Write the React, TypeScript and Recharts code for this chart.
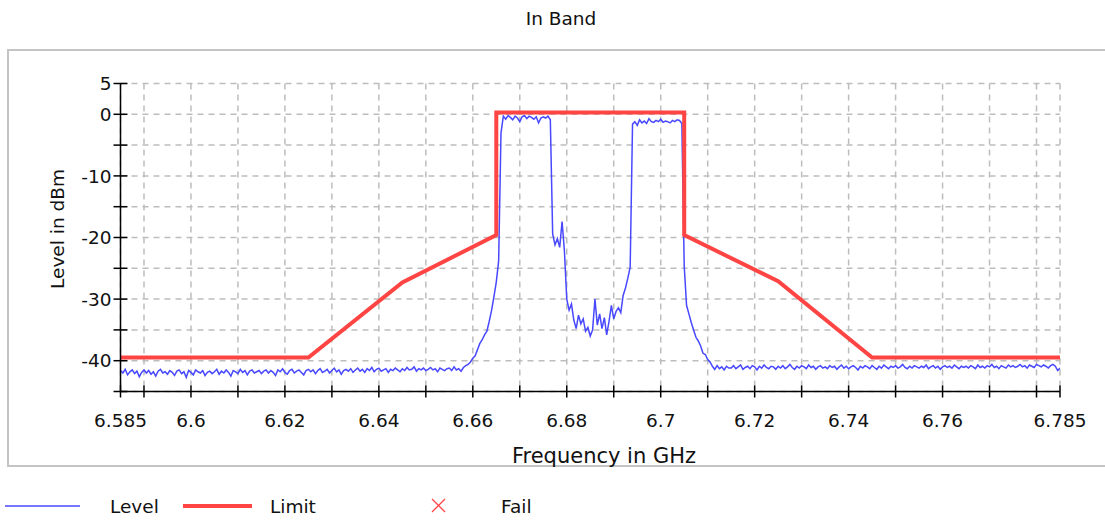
import React from "react";
import { CartesianGrid, Line, LineChart, XAxis, YAxis } from "recharts";

// sweep grid of the measured trace (GHz)
const sweepStart = 6.585;
const sweepStep = 0.0005;

// measured level in dBm, one row per 10 MHz (20 sweep points each)
const levelRows = [
  [-41.6, -42.0, -41.4, -42.3, -41.8, -41.5, -42.1, -41.7, -42.6, -41.9, -41.5, -42.0, -41.6, -42.2, -41.8, -42.5, -41.7, -41.4, -42.0, -41.8],
  [-42.2, -41.6, -41.9, -42.4, -41.7, -41.5, -42.1, -41.8, -42.7, -41.6, -41.9, -42.3, -41.5, -41.8, -42.0, -41.6, -42.4, -41.9, -41.7, -42.1],
  [-41.8, -41.4, -42.2, -41.7, -42.0, -41.5, -41.9, -42.5, -41.6, -41.8, -42.1, -41.4, -41.9, -41.6, -42.3, -41.7, -41.5, -42.0, -41.8, -41.6],
  [-42.1, -41.7, -41.5, -42.0, -41.6, -41.9, -42.4, -41.5, -41.8, -41.3, -41.9, -42.2, -41.6, -41.4, -42.0, -41.7, -41.5, -41.9, -42.3, -41.6],
  [-41.4, -41.8, -41.5, -42.1, -41.6, -41.3, -41.9, -41.7, -41.4, -42.0, -41.6, -41.2, -41.8, -41.5, -42.2, -41.6, -41.4, -41.7, -41.3, -41.9],
  [-41.5, -41.2, -41.7, -41.4, -41.9, -41.3, -41.6, -41.1, -41.8, -41.4, -41.2, -41.7, -41.5, -41.3, -41.9, -41.4, -41.6, -41.2, -41.5, -41.8],
  [-41.3, -41.6, -41.1, -41.5, -41.4, -41.0, -41.7, -41.3, -41.5, -41.2, -41.6, -41.4, -41.1, -41.5, -41.3, -41.8, -41.2, -41.4, -41.6, -41.3],
  [-41.2, -41.6, -41.0, -41.5, -41.3, -41.7, -41.1, -40.8, -40.6, -40.2, -39.6, -39.2, -38.2, -37.2, -36.6, -35.8, -35.2, -33.6, -31.8, -29.6],
  [-27.2, -23.8, -3.0, -0.3, -0.8, -0.2, -0.5, -0.9, -0.3, -0.6, -1.2, -0.4, -0.2, -0.7, -0.3, -0.5, -0.8, -0.4, -1.4, -0.6],
  [-0.4, -0.6, -0.3, -0.9, -19.4, -21.2, -20.2, -21.6, -17.4, -22.2, -30.0, -31.8, -30.8, -33.4, -34.8, -32.6, -34.0, -33.2, -35.2, -34.6],
  [-36.0, -35.0, -30.0, -34.2, -32.4, -34.8, -33.0, -35.8, -33.6, -31.0, -33.2, -32.0, -31.4, -32.2, -29.4, -28.2, -26.6, -24.8, -1.6, -1.2],
  [-1.8, -0.9, -1.4, -1.1, -1.5, -0.7, -1.2, -1.3, -1.0, -1.2, -0.8, -1.3, -1.1, -1.2, -1.4, -1.0, -1.2, -0.9, -1.0, -1.5],
  [-24.6, -31.0, -32.4, -33.8, -35.0, -36.2, -36.8, -37.6, -38.8, -39.0, -39.8, -40.2, -40.9, -41.4, -40.8, -41.3, -41.0, -41.5, -40.9, -41.2],
  [-41.2, -40.8, -41.3, -41.0, -40.7, -41.4, -41.1, -40.9, -41.3, -40.8, -41.0, -41.5, -40.9, -41.2, -40.7, -41.1, -41.3, -40.9, -41.0, -41.4],
  [-40.9, -41.2, -40.8, -41.3, -41.0, -40.6, -41.1, -41.4, -40.9, -41.2, -40.8, -41.0, -41.3, -40.7, -41.1, -40.9, -41.4, -41.0, -40.8, -41.2],
  [-41.0, -41.3, -40.8, -41.1, -40.9, -41.4, -41.0, -40.7, -41.2, -40.9, -41.3, -41.0, -40.8, -41.1, -41.5, -40.9, -41.2, -40.8, -41.0, -41.3],
  [-40.8, -41.1, -41.4, -40.9, -41.2, -40.7, -41.0, -41.3, -40.9, -41.1, -40.8, -41.2, -41.0, -40.6, -41.1, -41.3, -40.9, -41.2, -40.8, -41.0],
  [-41.2, -40.9, -41.1, -40.7, -41.3, -41.0, -40.8, -41.2, -40.9, -41.4, -41.0, -40.8, -41.1, -40.9, -41.2, -40.7, -41.0, -41.3, -40.9, -41.1],
  [-40.9, -41.2, -40.8, -41.0, -41.3, -40.7, -41.1, -40.9, -41.2, -40.8, -41.0, -40.6, -41.1, -40.9, -41.3, -40.8, -41.0, -41.2, -40.7, -41.0],
  [-40.8, -41.1, -40.9, -40.6, -41.0, -40.8, -41.2, -40.7, -40.9, -41.1, -40.6, -40.8, -41.0, -40.7, -40.9, -41.2, -40.8, -40.6, -40.9, -41.6],
  [-41.2],
];

// limit line corners
const limitFreq = [6.585, 6.625, 6.645, 6.665, 6.665, 6.705, 6.705, 6.725, 6.745, 6.785];
const limitDb = [-39.5, -39.5, -27.3, -19.6, 0.3, 0.3, -19.6, -27.1, -39.5, -39.5];

const xTicks = [6.585, 6.59, 6.6, 6.61, 6.62, 6.63, 6.64, 6.65, 6.66, 6.67, 6.68, 6.69, 6.7, 6.71, 6.72, 6.73, 6.74, 6.75, 6.76, 6.77, 6.78, 6.785];
const xLabels = ["6.585", "6.6", "6.62", "6.64", "6.66", "6.68", "6.7", "6.72", "6.74", "6.76", "6.785"];
const yTicks = [5, 0, -5, -10, -15, -20, -25, -30, -35, -40, -45];
const yLabels = ["5", "0", "-10", "-20", "-30", "-40"];

const legendItems = [
  { name: "Level", kind: "thin" },
  { name: "Limit", kind: "thick" },
  { name: "Fail", kind: "cross" },
];

const W = 1105;
const H = 521;
const PLOT_LEFT = 120.5;
const PLOT_RIGHT = 1060;
const PLOT_TOP = 83.5;
const PLOT_BOTTOM = 391.5;
const AXIS_W = 60;
const AXIS_H = 50;
const FONT = "'DejaVu Sans', sans-serif";
const BLUE = "#4848ff";
const RED = "#ff4444";

const levelData = levelRows.flat().map((db, i) => ({ f: sweepStart + i * sweepStep, db }));
const limitData = limitFreq.map((f, i) => ({ f, db: limitDb[i] }));

function XTick(props: any) {
  const { x, payload } = props;
  const v = payload.value;
  const label = xLabels.find((l) => Math.abs(Number(l) - v) < 1e-9);
  return (
    <g>
      <line x1={x} x2={x} y1={PLOT_BOTTOM - 6} y2={PLOT_BOTTOM + 6} stroke="#000" strokeWidth={1.5} />
      {label && (
        <text x={x} y={PLOT_BOTTOM + 35} textAnchor="middle" fontSize={18.5} fontFamily={FONT} fill="#111">
          {label}
        </text>
      )}
    </g>
  );
}

function YTick(props: any) {
  const { y, payload } = props;
  const label = yLabels.find((l) => Number(l) === payload.value);
  return (
    <g>
      <line x1={PLOT_LEFT - 7} x2={PLOT_LEFT + 7} y1={y} y2={y} stroke="#000" strokeWidth={1.5} />
      {label && (
        <text x={PLOT_LEFT - 9} y={y} dy="0.36em" textAnchor="end" fontSize={18.5} fontFamily={FONT} fill="#111">
          {label}
        </text>
      )}
    </g>
  );
}

export default function App() {
  return (
    <div style={{ position: "absolute", left: 0, top: 0, width: W, height: H, overflow: "hidden", background: "#fff", fontFamily: FONT }}>
      <div style={{ position: "absolute", left: 7, top: 49, width: 1120, height: 418, border: "2px solid #c4c4c4", boxSizing: "border-box" }} />
      <div style={{ position: "absolute", left: 0, top: 0 }}>
        <LineChart
          width={W}
          height={H}
          margin={{ top: PLOT_TOP, left: PLOT_LEFT - AXIS_W, right: W - PLOT_RIGHT, bottom: H - PLOT_BOTTOM - AXIS_H }}
        >
          <CartesianGrid stroke="#bdbdbd" strokeWidth={1.5} strokeDasharray="6 5" />
          <XAxis
            dataKey="f"
            type="number"
            domain={[6.585, 6.785]}
            ticks={xTicks}
            interval={0}
            height={AXIS_H}
            allowDataOverflow
            axisLine={{ stroke: "#000", strokeWidth: 1.5 }}
            tickLine={false}
            tick={<XTick />}
          />
          <YAxis
            type="number"
            domain={[-45, 5]}
            ticks={yTicks}
            interval={0}
            width={AXIS_W}
            allowDataOverflow
            axisLine={{ stroke: "#000", strokeWidth: 1.5 }}
            tickLine={false}
            tick={<YTick />}
          />
          <Line data={levelData} dataKey="db" type="linear" stroke={BLUE} strokeWidth={1.5} dot={false} isAnimationActive={false} />
          <Line data={limitData} dataKey="db" type="linear" stroke={RED} strokeWidth={4} dot={false} isAnimationActive={false} />
        </LineChart>
      </div>
      <svg width={W} height={H} style={{ position: "absolute", left: 0, top: 0, pointerEvents: "none" }}>
        <text x={561} y={25} textAnchor="middle" fontSize={18.5} fontFamily={FONT} fill="#111">
          In Band
        </text>
        <text x={0} y={0} transform="translate(64 229) rotate(-90)" textAnchor="middle" fontSize={18.5} fontFamily={FONT} fill="#111">
          Level in dBm
        </text>
        <text x={604} y={463} textAnchor="middle" fontSize={21} fontFamily={FONT} fill="#111">
          Frequency in GHz
        </text>
        {legendItems.map((item, i) => {
          const lx = [5, 183, 430][i];
          const tx = [110, 270, 501][i];
          return (
            <g key={item.name}>
              {item.kind === "thin" && <line x1={lx} x2={lx + 75} y1={506} y2={506} stroke={BLUE} strokeWidth={1.5} />}
              {item.kind === "thick" && <line x1={lx} x2={lx + 69} y1={506} y2={506} stroke={RED} strokeWidth={4} />}
              {item.kind === "cross" && (
                <g stroke={RED} strokeWidth={1.3}>
                  <line x1={lx + 2} y1={499} x2={lx + 15} y2={512} />
                  <line x1={lx + 15} y1={499} x2={lx + 2} y2={512} />
                </g>
              )}
              <text x={tx} y={513} fontSize={18.5} fontFamily={FONT} fill="#111">
                {item.name}
              </text>
            </g>
          );
        })}
      </svg>
    </div>
  );
}
